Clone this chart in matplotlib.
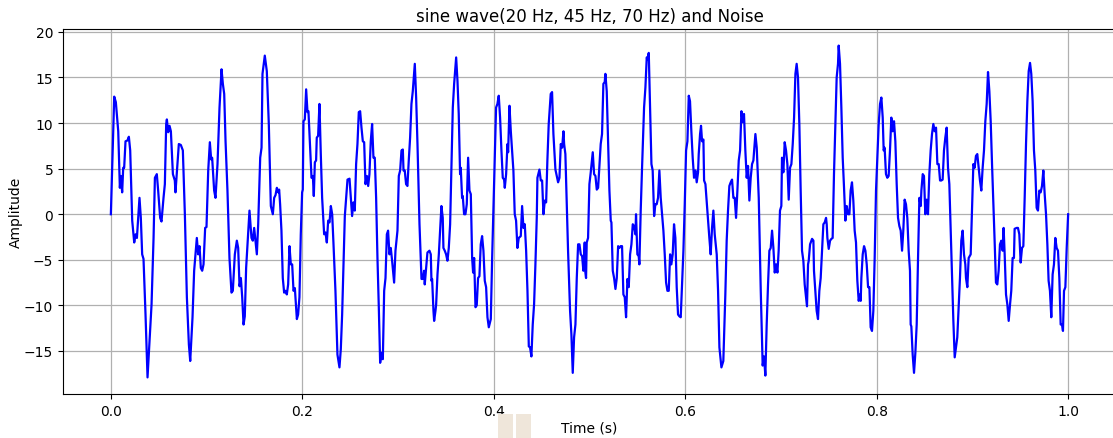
import numpy as np
import matplotlib
matplotlib.use("Agg")
import matplotlib.pyplot as plt
from matplotlib.patches import Rectangle

# Sampled signal: time (ms) and amplitude at the turning points of the trace
time_ms = [
    0.0, 3.5, 5.2, 7.7, 9.4, 10.4, 11.8, 12.9, 13.9, 15.3, 17.4, 18.8, 20.2, 22.3, 24.4, 25.8,
    27.2, 28.5, 29.9, 31.3, 32.7, 34.1, 36.2, 38.3, 40.4, 42.5, 44.6, 46.0, 48.0, 49.4, 51.5,
    52.9, 55.0, 56.4, 57.8, 58.5, 59.9, 61.3, 62.7, 64.8, 66.8, 67.5, 69.6, 71.0, 73.1, 75.2,
    77.3, 79.4, 81.5, 82.9,
    85.3, 87.0, 89.8, 91.2, 92.6, 94.0, 95.4, 96.8, 98.5, 99.9, 101.7, 103.4, 104.8, 105.8,
    107.9, 109.3, 111.4, 113.5, 115.6, 117.0, 118.4, 119.8, 121.8, 123.9, 126.0, 127.4, 129.5,
    131.6, 133.0, 134.4, 135.8, 137.2, 138.6, 139.9, 141.3, 142.7, 144.8, 146.9, 148.3, 149.7,
    151.1, 152.5, 153.9, 156.0, 157.4, 158.4, 160.8, 162.9, 165.0, 167.1, 169.2, 170.6, 172.0,
    173.4,
    174.8, 175.8, 176.8, 178.2, 179.6, 181.0, 182.4, 183.8, 185.2, 186.6, 188.0, 189.4, 190.8,
    192.2, 194.3, 195.6, 197.0, 198.4, 199.8, 200.5, 201.2, 202.6, 204.0, 205.4, 206.4, 208.2,
    209.6, 211.0, 212.0, 213.1, 214.4, 215.1, 216.5, 217.9, 219.3, 220.7, 222.8, 224.2, 225.6,
    227.0, 228.4, 229.8, 231.2, 232.5, 234.6, 236.7, 238.8, 240.2, 241.6, 243.0, 244.4, 245.8,
    247.2, 249.3, 250.7, 252.0, 253.4, 254.8, 256.2, 257.6, 259.0, 260.4, 261.8, 263.2,
    264.6, 266.0, 267.4, 268.8, 270.1, 271.5, 272.9, 274.3, 275.7, 277.1, 278.5, 279.9, 281.3,
    282.7, 284.1, 285.5, 286.9, 288.3, 289.6, 291.0, 292.4, 293.8, 295.9, 297.3, 299.4, 300.8,
    302.2, 303.6, 305.0, 305.7, 307.0, 308.4, 309.8, 311.2, 312.6, 314.0, 315.4, 317.5, 318.9,
    320.3, 322.4, 324.5, 325.8, 327.2, 327.9, 329.3, 330.7, 332.8, 334.2, 334.9, 335.6, 337.0,
    337.7, 339.1, 339.8, 341.2, 342.6, 344.0, 345.3, 346.7, 347.4, 348.8, 350.2, 351.6,
    353.0, 354.4, 355.8, 357.2, 358.6, 360.7, 362.1, 363.4, 364.8, 365.5, 366.9, 367.6, 369.0,
    370.4, 371.8, 373.2, 374.6, 376.0, 377.4, 378.4, 379.5, 380.9, 382.2, 383.6, 385.0, 386.4,
    387.8, 389.2, 390.6, 392.0, 393.4, 394.8, 396.9, 398.3, 399.6, 401.0, 402.4, 403.8, 405.2,
    406.6, 408.0, 409.4, 410.8, 411.5, 412.9, 414.3, 415.0, 416.4, 417.8, 419.1, 420.5, 421.9,
    423.3, 424.7, 426.1, 428.2, 429.6, 431.0, 432.4, 433.8, 435.2, 436.6, 437.9, 439.3, 440.7,
    442.1, 443.5, 444.9,
    445.6, 447.7, 449.1, 450.5, 451.9, 453.3, 454.7, 456.0, 457.4, 459.5, 460.9, 462.3, 464.4,
    467.2, 468.6, 470.0, 471.4, 472.8, 473.5, 474.8, 476.2, 477.6, 479.7, 481.1, 482.5, 483.9,
    485.3, 486.7, 488.1, 489.5, 490.9, 492.3, 493.6, 495.0, 495.7, 496.4, 497.1, 498.5, 499.9,
    501.3, 503.4, 504.8, 506.2, 507.6, 509.0, 510.4, 511.7, 513.1, 514.5, 515.9, 516.6, 518.0,
    519.4, 520.8, 522.2, 522.9, 524.3, 525.7, 527.1, 528.5, 529.9, 531.2, 532.6,
    534.0, 535.4, 536.8, 538.2, 539.6, 541.0, 542.4, 543.8, 545.2, 546.6, 548.0, 548.6, 550.0,
    551.4, 552.1, 553.5, 554.9, 557.0, 558.4, 559.8, 560.5, 561.9, 563.3, 564.7, 566.0, 567.5,
    568.8, 570.2, 571.6, 573.0, 574.4, 575.8, 577.2, 578.6, 580.0, 581.4, 582.8, 584.2, 585.5,
    586.9, 588.3, 589.7, 591.1, 592.5, 593.9, 595.3, 596.7, 598.1, 599.5, 600.9, 602.3, 603.7,
    605.0, 606.4, 607.8, 609.2, 610.6, 612.0, 613.4, 614.1, 615.5, 616.5, 617.6, 619.0, 619.7,
    621.1,
    625.2, 626.6, 628.0, 629.4, 630.8, 632.9, 634.3, 635.7, 637.8, 639.8, 641.9, 643.3, 644.7,
    646.1, 647.5, 648.9, 650.3, 651.7, 653.1, 654.5, 655.9, 657.3, 658.7, 660.0, 661.4, 662.8,
    664.2, 665.6, 667.0, 668.4, 669.8, 671.2, 673.3, 674.7, 676.8, 678.9, 680.9, 682.3, 683.7,
    685.1, 686.5, 687.9, 689.3, 690.7, 692.1, 693.5, 694.9, 696.3, 697.6, 699.0, 700.4, 701.1,
    702.5, 703.9, 705.3, 706.7, 708.1, 709.5, 710.9, 712.3,
    713.7, 715.1, 716.4, 717.8, 719.2, 720.6, 722.0, 723.4, 724.8, 726.2, 727.2, 728.3, 729.0,
    730.4, 732.5, 733.9, 734.5, 735.9, 737.3, 738.7, 740.1, 741.5, 742.9, 744.3, 745.7, 747.1,
    747.8, 748.5, 749.9, 751.3, 752.7, 754.0, 755.4, 756.8, 758.2, 759.6, 760.3, 761.7, 763.1,
    764.5, 765.9, 767.3, 768.7, 770.1, 771.5, 772.8, 774.2, 775.6, 777.0, 778.4, 779.8, 781.2,
    782.6, 783.3, 784.0, 785.4, 786.8, 788.2, 789.6, 791.0, 792.4, 793.7, 795.1, 796.5, 797.9,
    799.3, 800.7, 802.1,
    803.5, 804.9, 806.3, 807.3, 808.3, 809.7, 811.1, 812.5, 813.9, 815.3, 816.7, 818.1, 819.5,
    820.9, 822.3, 823.7, 825.1, 826.5, 827.8, 829.2, 830.6, 832.0, 833.4, 834.8, 835.5, 836.2,
    837.6, 839.0, 840.4, 841.8, 843.2, 844.6, 846.0, 846.7, 848.1, 849.4, 850.8, 852.2, 853.6,
    855.0, 856.4, 857.8, 859.2, 860.6, 862.0, 863.4, 864.8, 866.2, 867.5, 868.9, 870.3, 871.7,
    873.1, 874.5, 875.9, 877.3, 878.7, 880.1, 881.5, 882.9, 884.2, 885.6, 887.0, 888.4, 889.8,
    891.2, 892.6,
    893.3, 894.7, 896.1, 898.2, 899.6, 901.0, 902.3, 903.7, 905.1, 906.5, 907.9, 909.3, 910.7,
    912.1, 913.5, 914.9, 916.3, 917.7, 919.1, 920.5, 921.9, 923.2, 924.6, 926.0, 927.4, 928.8,
    930.2, 931.6, 932.6, 933.7, 935.1, 936.5, 937.9, 939.3, 940.6, 942.0, 943.4, 944.1, 946.2,
    947.6, 949.0, 950.4, 951.8, 953.2, 954.6, 956.0, 957.4, 958.8, 960.2, 961.5, 962.9, 964.3,
    965.7, 967.1, 968.5, 969.9, 971.3, 972.7, 974.1, 975.5, 976.9, 978.3, 979.6, 981.0, 982.4,
    983.8, 985.2, 986.6, 988.0, 989.4, 990.8, 992.2, 993.6, 994.6, 995.7, 997.1, 998.5, 1000.0,
]

amplitude = [
    0.0, 12.9, 12.3, 9.1, 2.9, 4.2, 2.4, 5.1, 5.1, 8.0, 8.1, 8.5, 7.0, -0.7, -3.1, -2.2,
    -2.6, -0.4, 1.8, -0.4, -4.4, -4.9, -11.0, -17.9, -13.9, -9.9, -2.6, 4.0, 4.4, 2.6, -0.4,
    -0.8, 1.8, 3.3, 9.9, 10.4, 9.0, 9.7, 9.1, 4.4, 3.7, 2.4, 5.5, 7.7, 7.6, 7.0,
    0.0, -9.1, -14.3, -16.1,
    -11.3, -6.2, -2.6, -4.4, -3.5, -5.9, -6.2, -5.5, -1.5, -1.4, 4.8, 7.9, 6.0, 6.2,
    2.6, 1.8, 5.5, 11.7, 15.9, 14.3, 13.2, 8.0, 2.6, -4.8, -8.6, -8.4, -4.4,
    -2.9, -3.7, -7.9, -7.0, -9.1, -12.1, -11.2, -5.9, -3.3, 0.4, -2.6, -2.9, -1.5,
    -2.9, -4.4, -1.1, 6.2, 7.3, 15.4, 17.4, 15.7, 9.9, 0.9, 0.0, 1.8, 2.1,
    2.9,
    2.4, 2.7, 1.1, -1.8, -7.0, -8.6, -8.4, -8.8, -7.7, -3.5, -5.5, -5.5, -8.4,
    -8.1, -11.5, -11.0, -9.1, -2.2, 2.4, 2.7, 10.2, 10.4, 13.7, 11.2, 11.3, 7.3,
    4.0, 4.2, 2.0, 5.7, 5.9, 8.4, 8.6, 12.1, 6.6, 1.8, -2.2, -2.0, -3.1,
    -0.7, -0.9, 0.9, 0.0, -3.1, -8.4, -15.4, -16.8, -14.8, -11.0, -5.5, -0.2, 1.8,
    3.8, 3.9, 1.8, -0.2, 1.3, 0.4, 5.5, 7.7, 11.2, 11.3, 9.5, 8.0,
    7.9, 3.3, 4.2, 3.1, 4.4, 8.0, 9.9, 6.2, 6.2, 1.8, -4.8, -10.2, -16.3,
    -15.2, -15.9, -8.4, -7.0, -2.2, -1.8, -4.4, -3.7, -5.1, -7.5, -4.0, -1.8, 4.2,
    4.8, 7.0, 7.1, 4.8, 4.8, 3.3, 3.1, 5.9, 8.4, 12.1, 13.5, 16.5, 12.8,
    7.7, -1.1, -7.1, -7.1, -6.2, -7.7, -5.9, -4.2, -4.0, -4.4, -7.3, -7.1, -10.6,
    -11.7, -10.6, -9.9, -6.6, -4.4, -1.6, 0.9, -0.4, -3.7, -4.0, -4.4, -5.1,
    -3.7, -1.1, 5.5, 11.7, 14.3, 17.2, 14.6, 11.0, 4.4, 5.1, 1.8, 2.0, 0.0,
    0.0, 1.1, 6.2, 2.6, 2.2, -4.8, -6.4, -4.8, -10.2, -10.0, -7.0, -6.8, -3.3,
    -2.4, -4.0, -7.3, -8.0, -11.3, -12.4, -11.5, -4.8, 0.4, 6.2, 11.7, 12.1, 13.0,
    10.6, 7.0, 4.0, 3.8, 2.9, 4.4, 7.7, 6.8, 11.9, 9.1, 7.0, 4.8, 0.0,
    -0.7, -3.7, -2.6, -2.4, 0.9, -1.5, -1.1, -4.0, -8.4, -14.5, -14.6, -15.6, -12.1,
    -9.9, -5.5, -0.4,
    4.0, 4.9, 3.7, 3.7, 0.0, 1.5, 1.3, 5.9, 9.9, 13.2, 13.4, 8.8, 4.9,
    3.5, 4.0, 7.7, 7.3, 9.1, 7.7, 6.6, 1.5, -4.0, -10.6, -13.2, -17.4, -13.5,
    -12.1, -7.0, -3.3, -3.3, -4.4, -4.6, -6.2, -3.1, -6.4, -7.0, -3.1, -2.6, 3.3,
    4.6, 6.8, 4.4, 4.2, 2.7, 2.9, 5.5, 7.7, 8.8, 14.3, 14.5, 15.4, 13.5,
    8.0, 2.6, -0.7, -0.9, -6.2, -7.0, -8.2, -7.0, -3.5, -3.7, -3.5,
    -3.5, -8.8, -9.1, -11.3, -7.1, -8.0, -4.4, -3.3, -1.1, -1.3, -2.2, 0.0, -4.4,
    -4.6, -5.5, 0.4, 5.1, 11.7, 13.9, 17.2, 17.0, 17.7, 11.7, 5.5, 4.8, -0.2,
    1.1, 1.1, 1.8, 4.8, 1.8, 0.0, -1.8, -4.4, -7.5, -8.4, -8.4, -4.4, -5.5,
    -4.4, -1.1, -2.6, -8.0, -11.0, -11.2, -11.3, -7.7, -4.0, 1.1, 7.0, 8.0, 13.0,
    12.4, 9.1, 6.2, 4.0, 4.8, 3.5, 4.6, 6.6, 8.8, 9.7, 8.0, 8.2, 3.7,
    3.3,
    -2.6, -4.4, -1.5, 0.4, -2.2, -4.4, -8.4, -14.6, -16.8, -16.1, -8.8, -2.9, 0.4,
    3.1, 3.5, 3.8, 1.8, 1.8, -0.4, 2.6, 5.9, 7.0, 11.3, 10.1, 11.0, 7.0,
    4.0, 5.3, 1.5, 4.0, 5.5, 5.9, 8.8, 7.3, 1.8, -8.4, -16.6, -15.6, -17.7,
    -12.1, -7.7, -4.0, -3.7, -1.8, -3.7, -6.4, -5.5, -6.4, -4.0, 0.4, 0.9, 6.2,
    4.6, 7.9, 7.0, 5.5, 1.6, 5.1, 5.5, 7.7,
    10.6, 15.4, 16.5, 15.0, 9.9, 2.6, -4.0, -5.1, -7.7, -9.1, -10.1, -5.5, -5.1,
    -3.3, -2.7, -2.9, -6.2, -8.4, -10.6, -11.5, -8.4, -7.0, -4.0, -1.1, -0.9, -0.4,
    -1.1, -2.6, -3.8, -2.9, -2.7, -2.6, 4.4, 9.9, 15.0, 16.5, 18.5, 16.5, 11.7,
    6.2, 2.9, -0.7, 0.9, 0.0, 0.0, 2.6, 3.5, 1.5, -1.8, -3.1, -7.3, -9.5,
    -8.8, -9.5, -7.0, -4.4, -3.5, -4.0, -5.5, -8.0, -8.0, -12.4, -12.8, -10.6, -4.8,
    2.6, 6.2, 9.9,
    12.1, 12.8, 10.6, 7.0, 7.3, 4.4, 4.0, 4.2, 7.0, 10.6, 9.1, 10.2, 8.0,
    3.3, -0.4, -1.3, -1.8, -4.0, -1.8, 1.6, 1.1, -0.4, -4.0, -6.2, -12.1, -12.3,
    -15.4, -17.4, -15.2, -12.1, -4.8, 1.8, 0.9, 2.6, 4.4, 4.2, 0.0, 1.6, 0.0,
    4.4, 7.0, 8.8, 9.9, 9.1, 9.5, 5.5, 5.5, 3.7, 3.7, 3.8, 7.0, 8.4,
    9.5, 5.1, 3.3, -1.8, -6.6, -11.7, -15.7, -14.6, -13.5, -10.2, -7.0, -2.9, -1.8,
    -4.4, -5.5,
    -7.0, -8.0, -4.8, -4.4, 0.4, 5.5, 5.1, 6.4, 6.6, 5.1, 3.7, 2.6, 5.1,
    7.0, 10.2, 12.1, 15.6, 13.5, 10.2, 5.5, 1.3, -2.9, -7.5, -7.7, -6.2, -3.3,
    -2.9, -4.0, -1.5, -4.4, -8.8, -9.9, -11.7, -9.9, -8.4, -4.8, -4.8, -1.6, -1.5,
    -1.5, -2.2, -5.3, -3.7, -3.5, 1.8, 7.7, 12.4, 15.7, 16.6, 15.4, 12.4, 7.0,
    4.8, 0.7, 0.4, 2.6, 2.4, 3.1, 4.8, 2.2, 0.0, -3.3, -7.3, -8.4, -11.3,
    -6.6, -5.5, -2.6, -3.7, -4.0, -7.0, -12.1, -12.1, -12.8, -8.4, -8.0, -3.7, 0.0,
]

title_text = "sine wave(20 Hz, 45 Hz, 70 Hz) and Noise"
x_label = "Time (s)"
y_label = "Amplitude"

time_s = np.asarray(time_ms) / 1000.0
amp = np.asarray(amplitude)

fig = plt.figure(figsize=(11.13, 4.39), dpi=100)
ax = fig.add_axes([63 / 1113, 44 / 439, 1053 / 1113, 365 / 439])

ax.plot(time_s, amp, color="#0000ff", linewidth=1.6)
ax.set_title(title_text, fontsize=12)
ax.set_xlabel(x_label, fontsize=10, labelpad=2)
ax.set_ylabel(y_label, fontsize=10, labelpad=8)
ax.grid(True, color="#b0b0b0", linewidth=0.9)
ax.set_xticks([0.0, 0.2, 0.4, 0.6, 0.8, 1.0])
ax.set_yticks([-15, -10, -5, 0, 5, 10, 15, 20])
ax.yaxis.set_label_coords(-0.038, 0.5)

# two pale blocks beneath the axis
for x0 in (498, 516):
    fig.patches.append(Rectangle((x0 / 1113, 0.0), 15 / 1113, 24 / 439,
                                 transform=fig.transFigure, facecolor="#efe6da",
                                 edgecolor="none", zorder=0))

fig.savefig("out.png", dpi=100)
